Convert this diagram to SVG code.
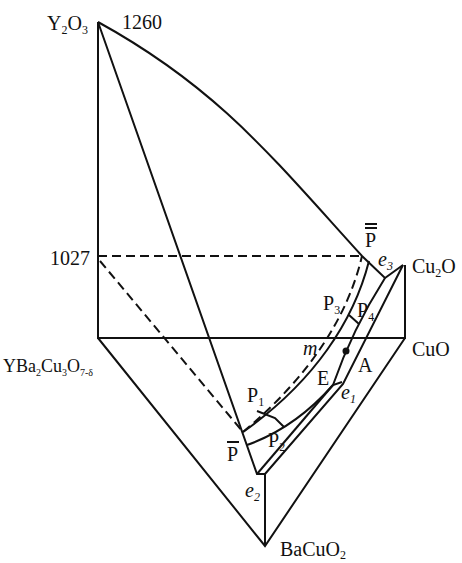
<svg xmlns="http://www.w3.org/2000/svg" width="462" height="563" viewBox="0 0 462 563">
<style>
.l{fill:none;stroke:#111;stroke-width:2}
.d{fill:none;stroke:#111;stroke-width:2;stroke-dasharray:9,5}
.t{font-family:"Liberation Serif",serif;font-size:20px;fill:#111}
.s{font-size:12px}
</style>
<rect width="462" height="563" fill="#fff"/>
<g id="connectors">
<path class="l" d="M98,22 L98,338 L405,338 L405,265"/>
<path class="l" d="M98,338 L265,546 L405,338"/>
<path class="l" d="M265,474 L265,546"/>
<path class="l" d="M98,22 C218,88 272,157 362,256 L385,278 L403,265"/>
<path class="l" d="M98,22 L257,474 L265,474"/>
<path class="d" d="M98,256 L362,256"/>
<path class="d" d="M100,261 L243,432"/>
<path class="d" d="M243,432 C310,376 348,316 362,256"/>
<path class="l" d="M243,432 C315,381 354,320 369,261"/>
<path class="l" d="M257,411 L275,418 L284,427"/>
<path class="l" d="M247,445 Q295,428 333,385 L342,382"/>
<path class="l" d="M257,474 L333,385"/>
<path class="l" d="M333,385 Q352,330 385,278"/>
<path class="l" d="M349,315 L359,324"/>
<path class="l" d="M265,474 L343,384 L403,265"/>
</g>
<circle id="dot" cx="346" cy="351" r="3.5" fill="#111"/>
<g id="labels">
<text class="t" x="47" y="30">Y<tspan class="s" dy="4">2</tspan><tspan dy="-4">O</tspan><tspan class="s" dy="4">3</tspan></text>
<text class="t" x="122" y="29">1260</text>
<text class="t" x="90" y="265" text-anchor="end">1027</text>
<text class="t" x="412" y="273">Cu<tspan class="s" dy="4">2</tspan><tspan dy="-4">O</tspan></text>
<text class="t" x="412" y="356">CuO</text>
<text class="t" x="280" y="556">BaCuO<tspan class="s" dy="3">2</tspan></text>
<text class="t" x="3" y="372" style="font-size:18px">YBa<tspan class="s" dy="4" style="font-size:10px">2</tspan><tspan dy="-4">Cu</tspan><tspan class="s" dy="4" style="font-size:10px">3</tspan><tspan dy="-4">O</tspan><tspan class="s" dy="4" style="font-size:10px">7-δ</tspan></text>
<text class="t" x="365" y="247">P</text>
<path class="l" d="M365,224 L377,224 M365,228 L377,228" stroke-width="1.5"/>
<text class="t" x="227" y="461">P</text>
<path class="l" d="M227,442 L239,442" stroke-width="1.5"/>
<text class="t" x="378" y="266" font-style="italic">e<tspan class="s" dy="4">3</tspan></text>
<text class="t" x="341" y="399" font-style="italic">e<tspan class="s" dy="4">1</tspan></text>
<text class="t" x="245" y="497" font-style="italic">e<tspan class="s" dy="4">2</tspan></text>
<text class="t" x="303" y="355" font-style="italic">m</text>
<text class="t" x="317" y="385">E</text>
<text class="t" x="358" y="372">A</text>
<text class="t" x="247" y="402">P<tspan class="s" dy="4">1</tspan></text>
<text class="t" x="268" y="447">P<tspan class="s" dy="4">2</tspan></text>
<text class="t" x="323" y="310">P<tspan class="s" dy="4">3</tspan></text>
<text class="t" x="357" y="317">P<tspan class="s" dy="4">4</tspan></text>
</g>
</svg>
